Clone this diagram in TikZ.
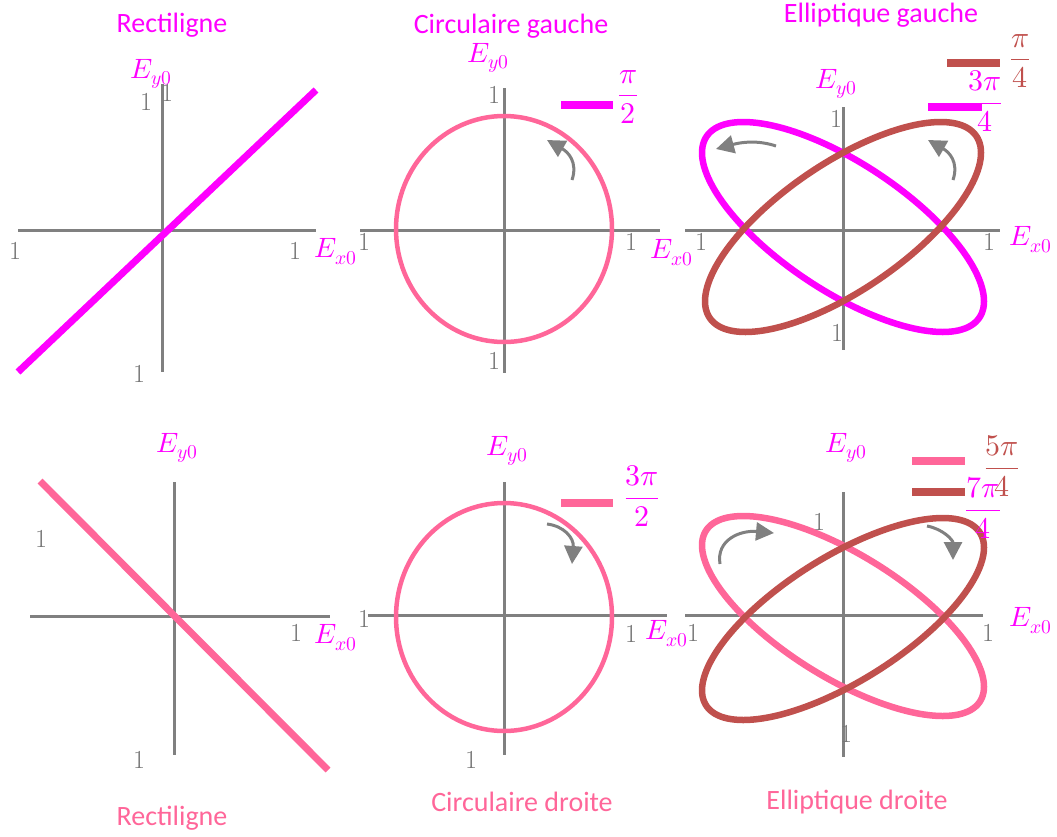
\documentclass[tikz,border=0pt]{standalone}
\usepackage{amsmath}
\usepackage{fontspec}
\usepackage{unicode-math}
\setmathfont{Latin Modern Math}
\newfontfamily\titlefont{Carlito}
\usetikzlibrary{arrows.meta}
\definecolor{mag}{HTML}{FF00FF}
\definecolor{pk}{HTML}{FF6699}
\definecolor{br}{HTML}{C0504D}
\definecolor{ax}{HTML}{808080}
\tikzset{
 axisline/.style={draw=ax, line width=3pt},
 ttl/.style={font=\titlefont\fontsize{28}{32}\selectfont, inner sep=0pt},
 num/.style={text=ax!90!black, font=\fontsize{26}{28}\selectfont, inner sep=0pt},
 lab/.style={text=mag, font=\fontsize{28}{30}\selectfont, inner sep=0pt},
 fr/.style={font=\fontsize{30}{32}\selectfont, inner sep=0pt},
 legbar/.style={line width=8pt},
 rot/.style={draw=ax, line width=3pt, -{Triangle[length=18pt,width=18pt]}},
 curve/.style={line width=6.5pt, line join=round},
}
\begin{document}
\begin{tikzpicture}[x=1pt,y=-1pt]
\useasboundingbox (0,0) rectangle (1057,836);
% ---------- Panel 1: Rectiligne (top-left)
\coordinate (p1l) at (18,230); \coordinate (p1r) at (316,230);
\coordinate (p1t) at (162,84); \coordinate (p1b) at (162,372);
\draw[axisline] (p1l) -- (p1r);
\draw[axisline] (p1t) -- (p1b);
\coordinate (p1a) at (18,372); \coordinate (p1z) at (316,90);
\draw[mag, line width=7pt] (p1a) -- (p1z);
\node[ttl, text=mag] (t1) at (172,25) {Rectiligne};
\node[num] (n1e) at (167,93) {1};
\node[lab] (ey1) at (151,74) {$E_{y0}$};
\node[lab] (ex1) at (336,252) {$E_{x0}$};
\node[num] (n1a) at (146,102) {1};
\node[num] (n1b) at (15,251) {1};
\node[num] (n1c) at (295,251) {1};
\node[num] (n1d) at (139,374) {1};
% ---------- Panel 2: Circulaire gauche (top-middle)
\coordinate (p2l) at (360,230); \coordinate (p2r) at (660,230);
\coordinate (p2t) at (504,88); \coordinate (p2b) at (504,373);
\draw[axisline] (p2l) -- (p2r);
\draw[axisline] (p2t) -- (p2b);
\coordinate (c2) at (504,229);
\draw[pk, line width=4.5pt] (c2) ellipse [x radius=108pt, y radius=113pt];
\coordinate (l2a) at (561,105); \coordinate (l2b) at (613,105);
\draw[mag, legbar] (l2a) -- (l2b);
\node[fr, text=mag] (f2) at (628,97) {$\dfrac{\pi}{2}$};
\coordinate (r2a) at (572,180); \coordinate (r2b) at (547,140);
\draw[rot] (r2a) .. controls (578,162) and (568,152) .. (r2b);
\node[ttl, text=mag] (t2) at (511,26) {Circulaire gauche};
\node[lab] (ey2) at (488,58) {$E_{y0}$};
\node[lab] (ex2) at (672,253) {$E_{x0}$};
\node[num] (n2a) at (494,95) {1};
\node[num] (n2b) at (364,242) {1};
\node[num] (n2c) at (631,242) {1};
\node[num] (n2d) at (494,361) {1};
% ---------- Panel 3: Elliptique gauche (top-right)
\coordinate (p3l) at (685,230); \coordinate (p3r) at (1000,230);
\coordinate (p3t) at (843,107); \coordinate (p3b) at (843,350);
\draw[axisline] (p3l) -- (p3r);
\draw[axisline] (p3t) -- (p3b);
\draw[mag, curve] plot[domain=0:360, samples=145] ({843+141*cos(\x)}, {227-105*cos(\x-135)}) -- cycle;
\draw[br, curve] plot[domain=0:360, samples=145] ({843+138*cos(\x)}, {227-105*cos(\x-45)}) -- cycle;
\coordinate (l3a) at (947,63); \coordinate (l3b) at (1000,63);
\draw[br, legbar] (l3a) -- (l3b);
\node[fr, text=br] (f3a) at (1020,61) {$\dfrac{\pi}{4}$};
\coordinate (l3c) at (928,107); \coordinate (l3d) at (982,107);
\draw[mag, legbar] (l3c) -- (l3d);
\node[fr, text=mag] (f3b) at (985,101) {$\dfrac{3\pi}{4}$};
\coordinate (r3a) at (953,180); \coordinate (r3b) at (928,140);
\draw[rot] (r3a) .. controls (959,162) and (949,152) .. (r3b);
\coordinate (r3c) at (776,146); \coordinate (r3d) at (716,149);
\draw[rot] (r3c) .. controls (758,140) and (742,142) .. (r3d);
\node[ttl, text=mag] (t3) at (881,15) {Elliptique gauche};
\node[lab] (ey3) at (836,84) {$E_{y0}$};
\node[lab] (ex3) at (1031,240) {$E_{x0}$};
\node[num] (n3a) at (836,119) {1};
\node[num] (n3b) at (701,242) {1};
\node[num] (n3c) at (989,242) {1};
\node[num] (n3d) at (837,333) {1};
% ---------- Panel 4: Rectiligne (bottom-left)
\coordinate (p4l) at (30,616); \coordinate (p4r) at (330,616);
\coordinate (p4t) at (174,482); \coordinate (p4b) at (174,755);
\draw[axisline] (p4l) -- (p4r);
\draw[axisline] (p4t) -- (p4b);
\coordinate (p4a) at (40,481); \coordinate (p4z) at (328,770);
\draw[pk, line width=7pt] (p4a) -- (p4z);
\node[ttl, text=pk] (t4) at (172,818) {Rectiligne};
\node[lab] (ey4) at (177,448) {$E_{y0}$};
\node[lab] (ex4) at (336,638) {$E_{x0}$};
\node[num] (n4a) at (41,539) {1};
\node[num] (n4c) at (296,633) {1};
\node[num] (n4d) at (139,760) {1};
% ---------- Panel 5: Circulaire droite (bottom-middle)
\coordinate (p5l) at (368,615); \coordinate (p5r) at (667,615);
\coordinate (p5t) at (504,482); \coordinate (p5b) at (504,755);
\draw[axisline] (p5l) -- (p5r);
\draw[axisline] (p5t) -- (p5b);
\coordinate (c5) at (504,617);
\draw[pk, line width=4.5pt] (c5) ellipse [x radius=108pt, y radius=114pt];
\coordinate (l5a) at (561,503); \coordinate (l5b) at (613,503);
\draw[pk, legbar] (l5a) -- (l5b);
\node[fr, text=mag] (f5) at (642,496) {$\dfrac{3\pi}{2}$};
\coordinate (r5a) at (547,524); \coordinate (r5b) at (572,564);
\draw[rot] (r5a) .. controls (564,526) and (574,538) .. (r5b);
\node[ttl, text=pk] (t5) at (522,802) {Circulaire droite};
\node[lab] (ey5) at (507,451) {$E_{y0}$};
\node[lab] (ex5) at (667,634) {$E_{x0}$};
\node[num] (n5b) at (364,619) {1};
\node[num] (n5c) at (631,634) {1};
\node[num] (n5d) at (471,760) {1};
% ---------- Panel 6: Elliptique droite (bottom-right)
\coordinate (p6l) at (685,615); \coordinate (p6r) at (983,615);
\coordinate (p6t) at (843,492); \coordinate (p6b) at (843,757);
\draw[axisline] (p6l) -- (p6r);
\draw[axisline] (p6t) -- (p6b);
\draw[pk, curve] plot[domain=0:360, samples=145] ({843+141*cos(\x)}, {616-100*cos(\x-135)}) -- cycle;
\draw[br, curve] plot[domain=0:360, samples=145] ({843+141*cos(\x)}, {619-101*cos(\x-45)}) -- cycle;
\coordinate (l6a) at (912,461); \coordinate (l6b) at (965,461);
\draw[pk, legbar] (l6a) -- (l6b);
\coordinate (l6c) at (912,492); \coordinate (l6d) at (965,492);
\draw[br, legbar] (l6c) -- (l6d);
\node[fr, text=br] (f6a) at (1002,466) {$\dfrac{5\pi}{4}$};
\node[fr, text=mag] (f6b) at (983,508) {$\dfrac{7\pi}{4}$};
\coordinate (r6a) at (720,564); \coordinate (r6b) at (774,533);
\draw[rot] (r6a) .. controls (716,540) and (740,530) .. (r6b);
\coordinate (r6c) at (927,526); \coordinate (r6d) at (953,560);
\draw[rot] (r6c) .. controls (943,529) and (953,540) .. (r6d);
\node[ttl, text=pk] (t6) at (857,802) {Elliptique droite};
\node[lab] (ey6) at (846,448) {$E_{y0}$};
\node[lab] (ex6) at (1031,621) {$E_{x0}$};
\node[num] (n6a) at (819,522) {1};
\node[num] (n6b) at (693,633) {1};
\node[num] (n6c) at (988,633) {1};
\node[num] (n6d) at (846,734) {1};
\end{tikzpicture}
\end{document}
